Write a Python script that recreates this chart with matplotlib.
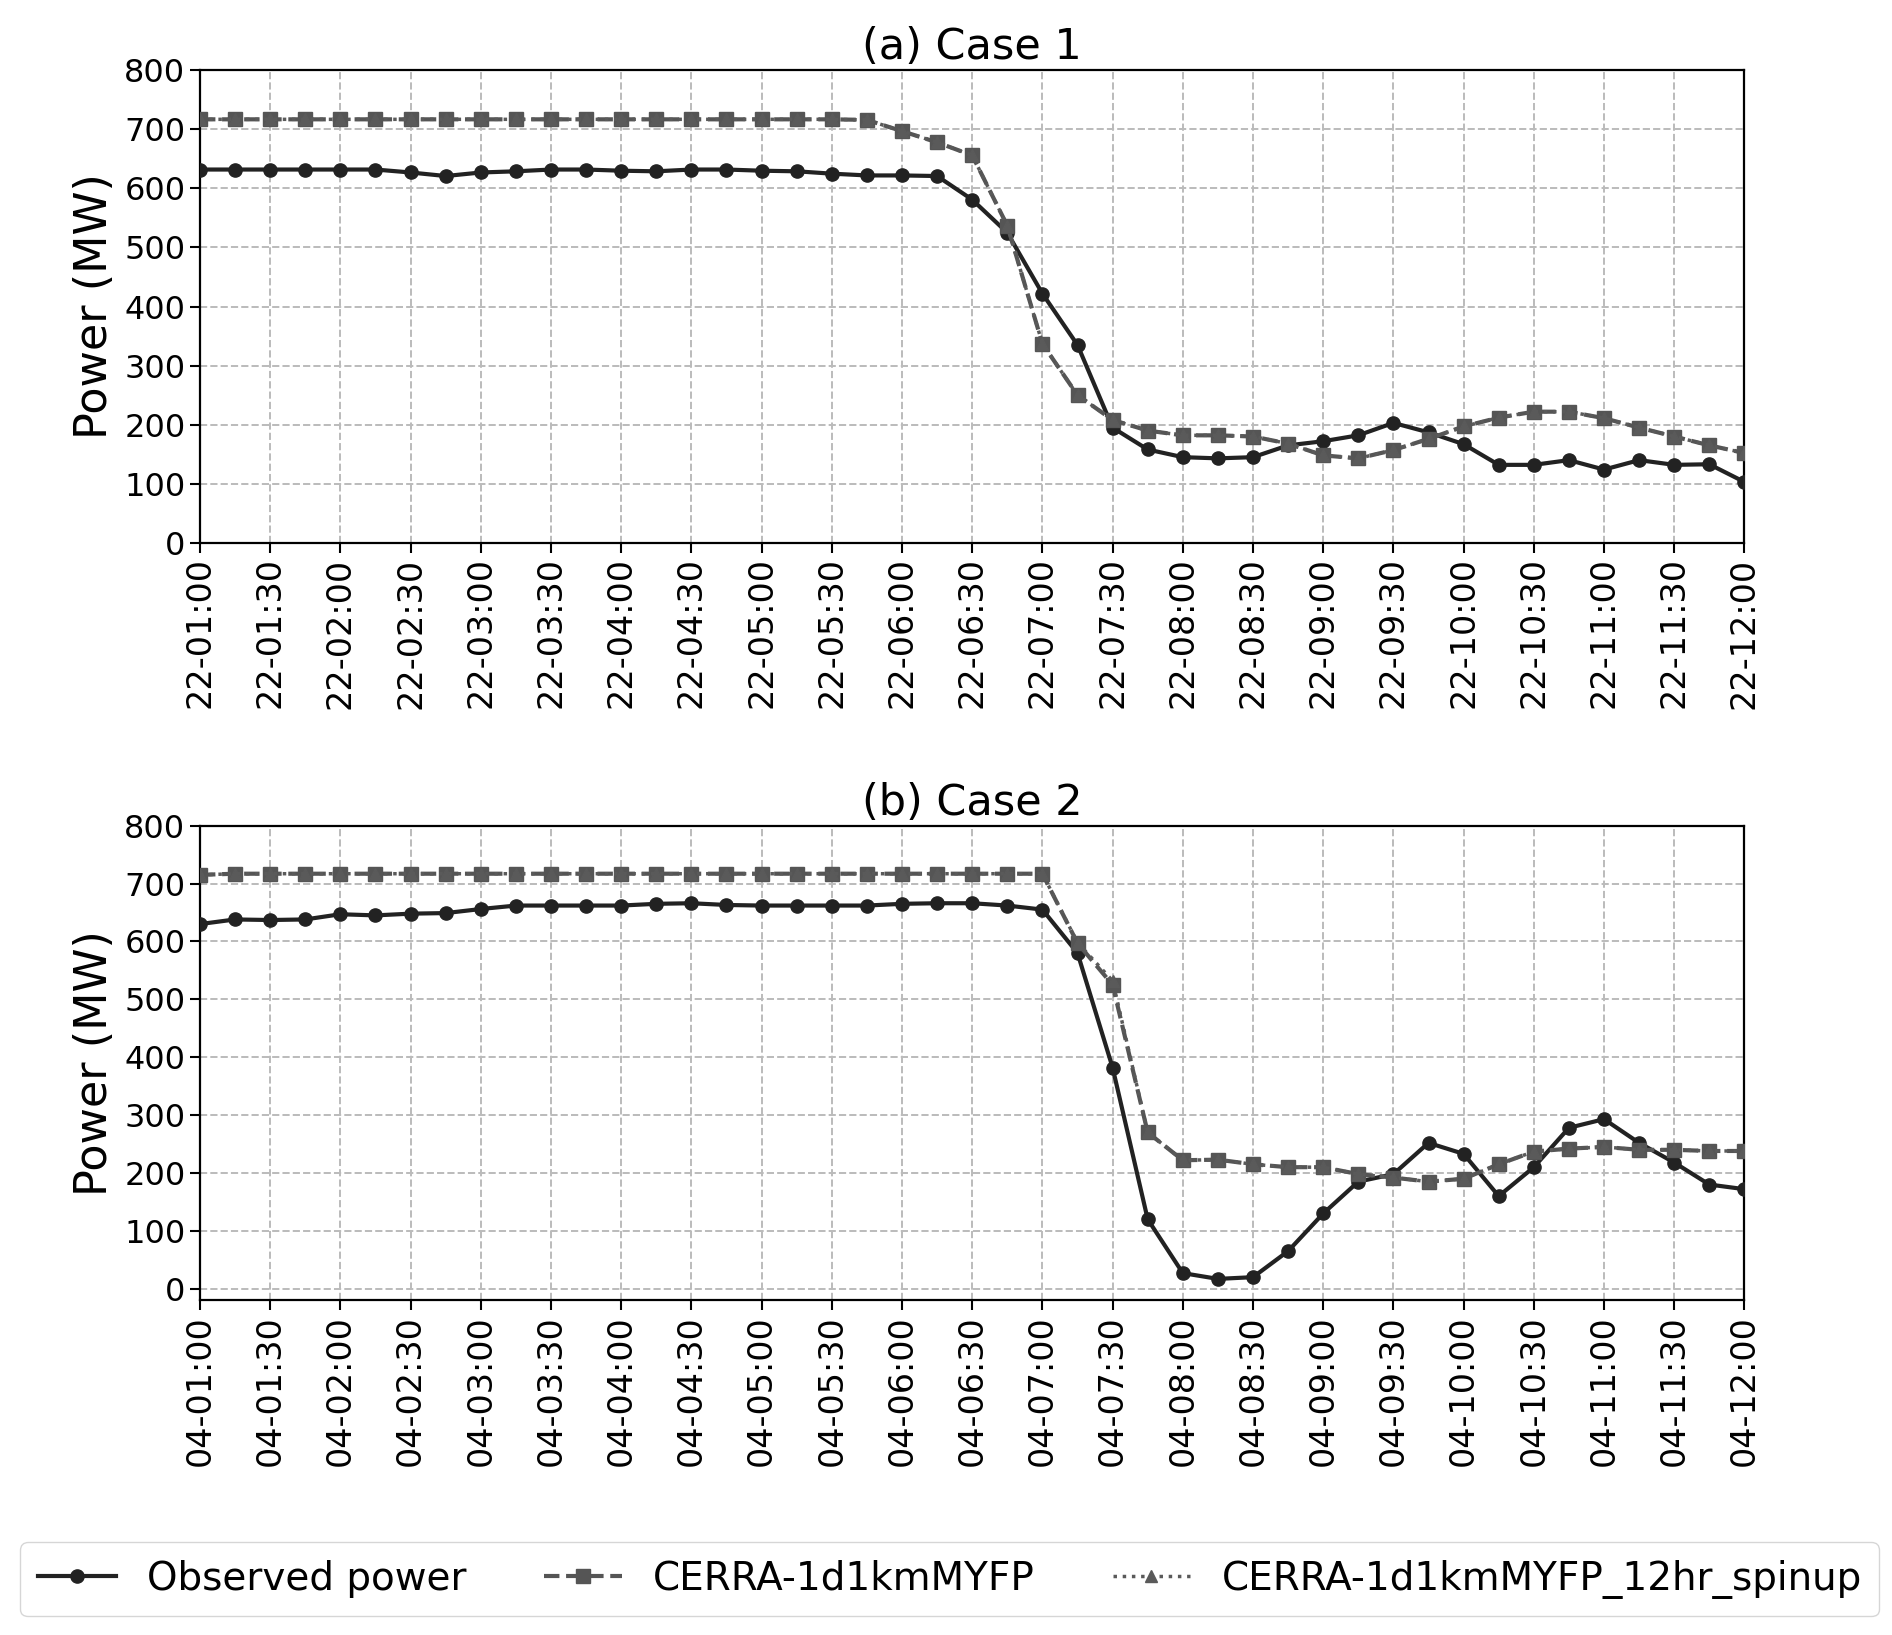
import numpy as np
import pandas as pd
import matplotlib
matplotlib.use('Agg')
import matplotlib.pyplot as plt
import matplotlib.dates as mdates

# 15-minute steps, 01:00 to 12:00
times1 = pd.date_range('2020-01-22 01:00', '2020-01-22 12:00', freq='15min')
times2 = pd.date_range('2020-01-04 01:00', '2020-01-04 12:00', freq='15min')

obs1 = [632, 632, 632, 632, 632, 632, 627, 621, 627, 629, 632, 632, 630, 629, 632,
        632, 630, 629, 625, 622, 622, 621, 581, 525, 422, 335, 195, 158, 145, 143,
        145, 165, 172, 182, 203, 187, 167, 132, 132, 140, 124, 140, 132, 133, 103]
cerra1 = [717, 717, 717, 717, 717, 717, 717, 717, 717, 717, 717, 717, 717, 717, 717,
          717, 717, 717, 717, 716, 697, 678, 656, 537, 337, 250, 208, 190, 182, 182,
          180, 168, 148, 143, 157, 176, 197, 212, 222, 222, 211, 195, 180, 165, 152]
spin1 = list(cerra1)

obs2 = [630, 638, 637, 638, 647, 645, 648, 649, 656, 662, 662, 662, 662, 665, 666,
        663, 662, 662, 662, 662, 665, 666, 666, 662, 655, 580, 382, 120, 27, 17,
        20, 65, 130, 185, 198, 252, 233, 160, 210, 278, 293, 252, 218, 180, 172]
cerra2 = [715, 717, 717, 717, 717, 717, 717, 717, 717, 717, 717, 717, 717, 717, 717,
          717, 717, 717, 717, 717, 717, 717, 717, 717, 717, 597, 525, 270, 222, 223,
          215, 210, 210, 198, 192, 185, 190, 215, 237, 242, 245, 240, 240, 238, 238]
spin2 = [715, 717, 717, 717, 717, 717, 717, 717, 717, 717, 717, 717, 717, 717, 717,
         717, 717, 717, 717, 717, 717, 717, 717, 717, 717, 598, 532, 270, 222, 223,
         215, 210, 210, 198, 192, 185, 190, 215, 237, 242, 245, 240, 240, 238, 238]

titles = ['(a) Case 1', '(b) Case 2']
ylims = [(0, 800), (-20, 800)]

fig = plt.figure(figsize=(18.92, 16.35), dpi=100)
ax1 = fig.add_axes([0.1057, 0.668, 0.8163, 0.289])
ax2 = fig.add_axes([0.1057, 0.2047, 0.8163, 0.2903])

panels = [(ax1, times1, obs1, cerra1, spin1), (ax2, times2, obs2, cerra2, spin2)]
for k, (ax, t, obs, cerra, spin) in enumerate(panels):
    ax.plot(t, obs, color='#222222', linestyle='-', marker='o', markersize=9.5,
            linewidth=3.0, label='Observed power', zorder=3)
    ax.plot(t, cerra, color='#555555', linestyle='--', marker='s', markersize=9.5,
            linewidth=3.0, label='CERRA-1d1kmMYFP', zorder=3)
    ax.plot(t, spin, color='#5a5a5a', linestyle=':', marker='^', markersize=8,
            linewidth=2.5, label='CERRA-1d1kmMYFP_12hr_spinup', zorder=3)

    ax.set_xlim(t[0], t[-1])
    ax.set_ylim(*ylims[k])
    ax.set_yticks(np.arange(0, 801, 100))
    ax.xaxis.set_major_locator(mdates.MinuteLocator(byminute=[0, 30]))
    ax.xaxis.set_major_formatter(mdates.DateFormatter('%d-%H:%M'))
    plt.setp(ax.get_xticklabels(), rotation=90)
    ax.tick_params(axis='y', labelsize=23, width=1.5, length=7)
    ax.tick_params(axis='x', labelsize=24, width=1.5, length=7)
    ax.grid(True, linestyle='--', color='#bbbbbb', linewidth=1.4)
    ax.set_axisbelow(True)
    for s in ax.spines.values():
        s.set_linewidth(1.6)
        s.set_color('black')
    ax.set_ylabel('Power (MW)', fontsize=32, labelpad=6)
    ax.set_title(titles[k], fontsize=31, pad=8)

handles, labels = ax1.get_legend_handles_labels()
fig.legend(handles, labels, loc='center', bbox_to_anchor=(0.502, 0.034), ncol=3,
           fontsize=28, frameon=True, fancybox=True, edgecolor='#cccccc',
           handlelength=2.0, handletextpad=0.8, columnspacing=2.0, borderpad=0.45)

fig.savefig('out.png', dpi=100)
